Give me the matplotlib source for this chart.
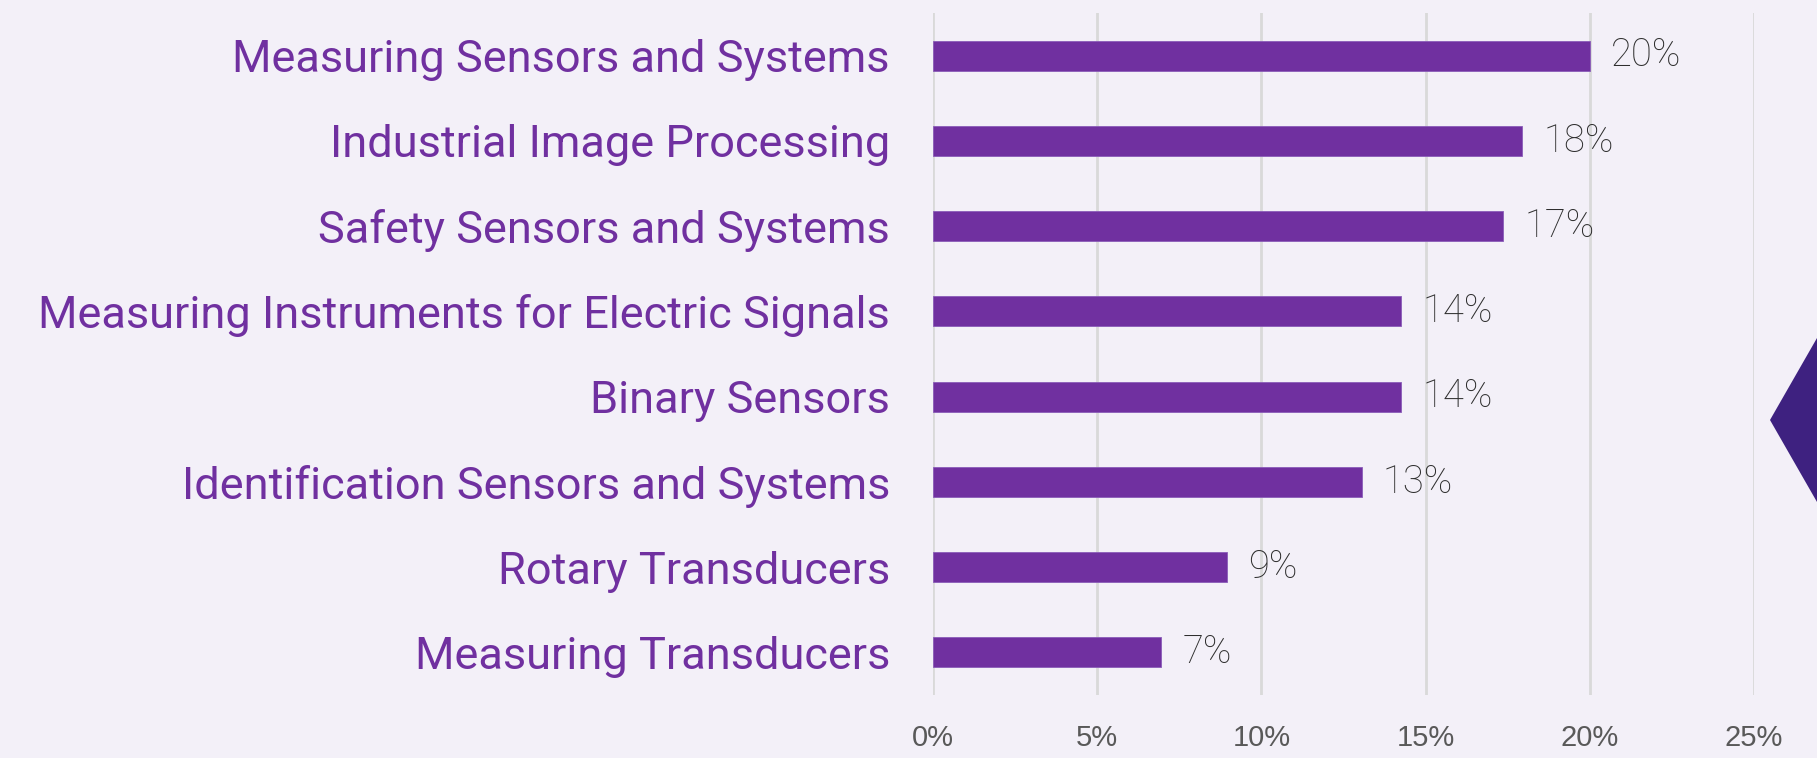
import matplotlib
matplotlib.use("Agg")
import matplotlib.pyplot as plt
from matplotlib.patches import Polygon
import numpy as np

categories = ["Measuring Sensors and Systems",
              "Industrial Image Processing",
              "Safety Sensors and Systems",
              "Measuring Instruments for Electric Signals",
              "Binary Sensors",
              "Identification Sensors and Systems",
              "Rotary Transducers",
              "Measuring Transducers"]
shares = [20.0, 17.95, 17.35, 14.25, 14.25, 13.05, 8.95, 6.95]
labels = ["20%", "18%", "17%", "14%", "14%", "13%", "9%", "7%"]
xticks = [0, 5, 10, 15, 20, 25]

bg = "#F3F0F8"
purple = "#7030A0"

fig = plt.figure(figsize=(18.17, 7.58), dpi=100, facecolor=bg)
ax = fig.add_axes([933 / 1817, 1 - 695 / 758, (1754 - 933) / 1817, (695 - 13) / 758])
ax.set_facecolor(bg)

y = np.arange(len(categories))
ax.barh(y, shares, height=0.35, color=purple, edgecolor="#8a5cb8", linewidth=0.6, zorder=3)

for yi, v, lab in zip(y, shares, labels):
    ax.text(v + 0.65, yi, lab, va="center", ha="left", fontsize=27.5,
            family="Roboto", fontweight="light", color="#2e2e2e", zorder=4)

ax.set_xlim(0, 25)
ax.set_ylim(len(categories) - 0.5, -0.5)
ax.set_xticks(xticks)
ax.set_xticklabels([f"{t}%" for t in xticks], fontsize=21, color="#595959",
                   family="Liberation Sans")
ax.set_yticks(y)
ax.set_yticklabels(categories, fontsize=32.5, color=purple, family="Roboto")
ax.tick_params(axis="x", length=0, pad=21)
ax.tick_params(axis="y", length=0, pad=31)
ax.xaxis.grid(True, color="#D9D9D9", linewidth=2, zorder=0)
ax.set_axisbelow(True)
for s in ax.spines.values():
    s.set_visible(False)

# dark chevron at the right edge
fig.patches.append(Polygon([[1770 / 1817, 1 - 420 / 758], [1.0, 1 - 338 / 758],
                            [1.0, 1 - 502 / 758]], closed=True,
                           transform=fig.transFigure, facecolor="#3E2180",
                           edgecolor="none"))

fig.savefig("out.png", dpi=100, facecolor=bg)
